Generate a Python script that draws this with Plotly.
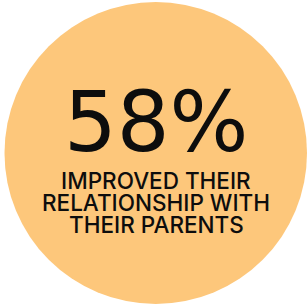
import plotly.graph_objects as go

# Data
value_pct = 58
headline = f"{value_pct}%"
caption_lines = ["IMPROVED THEIR", "RELATIONSHIP WITH", "THEIR PARENTS"]

W, H = 308, 305
circle_color = "#FDC77B"

fig = go.Figure()

fig.add_shape(type="circle", xref="x", yref="y",
              x0=4.5, x1=307, y0=2, y1=304,
              fillcolor=circle_color, line=dict(width=0), layer="below")

fig.add_annotation(x=156, y=122, xref="x", yref="y", text=headline,
                   showarrow=False, xanchor="center", yanchor="middle",
                   font=dict(family="DejaVu Sans", size=83, color="#0d0d0d"))

caption_y = [180, 202.5, 224]
for line, yy in zip(caption_lines, caption_y):
    fig.add_annotation(x=156, y=yy, xref="x", yref="y", text=line,
                       showarrow=False, xanchor="center", yanchor="middle",
                       font=dict(family="Inter", size=22.5, color="#0d0d0d",
                                 weight=500))

fig.update_xaxes(range=[0, W], visible=False, fixedrange=True)
fig.update_yaxes(range=[H, 0], visible=False, fixedrange=True)
fig.update_layout(width=W, height=H, margin=dict(l=0, r=0, t=0, b=0),
                  paper_bgcolor="white", plot_bgcolor="white", showlegend=False)

fig.write_html("out.html", config={"displayModeBar": False},
               post_script="document.body.style.margin='0';document.body.style.overflow='hidden';")
